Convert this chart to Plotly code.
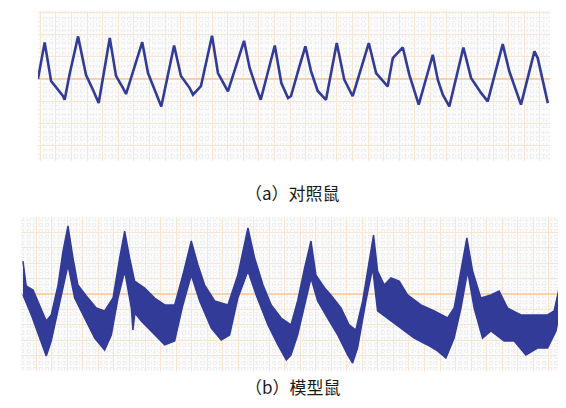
import plotly.graph_objects as go

# ---- (a) control rat: waveform vertices (x in grid divisions, y in grid divisions)
ctrl_t = [-0.15, 0.28, 0.69, 1.13, 1.45, 1.56, 1.88, 2.42, 2.93, 3.38, 3.74, 4.45, 4.85, 5.30, 5.49,
          6.53, 6.90, 7.33, 7.75, 8.57, 9.01, 9.57, 9.78, 10.29, 11.00, 11.38, 11.81, 12.02, 13.05,
          13.41, 13.84, 14.12, 15.02, 15.44, 15.87, 16.06, 16.57, 16.98, 17.34, 17.77, 18.30, 18.99,
          19.47, 19.80, 20.01, 21.04, 21.51, 22.25, 22.58, 23.22, 23.64, 24.24, 25.14, 25.46, 25.78,
          26.20, 27.10, 27.59, 28.23, 28.66, 29.62, 30.04, 30.47, 30.79, 31.65, 31.86, 32.51]
ctrl_v = [0.00, 1.66, -0.09, -0.50, -0.77, -0.94, 0.23, 1.93, 0.18, -0.50, -1.09, 1.86, 0.14, -0.41, -0.68,
          1.67, 0.27, -0.50, -1.24, 1.52, 0.14, -0.41, -0.71, -0.32, 1.96, 0.27, -0.26, -0.56, 1.73,
          0.50, -0.41, -0.94, 1.52, -0.18, -0.86, -0.77, 0.50, 1.48, 0.36, -0.54, -0.94, 1.63,
          -0.03, -0.48, -0.78, 1.63, 0.27, -0.33, 0.95, 1.43, 0.19, -1.16, 1.10, -0.03, -0.71,
          -1.24, 1.43, 0.05, -0.63, -1.01, 1.58, 0.35, -0.56, -1.16, 1.25, 0.95, -1.09]

# ---- (b) model rat: upper and lower envelope of the noisy band
model_up_t = [0.14, 0.35, 0.79, 1.22, 1.64, 1.96, 2.40, 2.72, 3.04, 3.36, 3.68, 4.22, 4.86, 5.40, 5.94,
              6.37, 6.69, 7.01, 7.33, 7.98, 8.62, 9.27, 9.91, 10.44, 10.98, 11.41, 11.84, 12.49, 13.34,
              13.98, 14.63, 15.06, 15.60, 16.13, 16.77, 17.40, 17.83, 18.28, 18.69, 19.01, 19.57, 19.97,
              20.62, 21.15, 21.58, 22.02, 22.44, 22.72, 22.98, 23.41, 23.84, 24.37, 24.91, 25.77, 26.63,
              27.49, 27.91, 28.35, 28.73, 29.10, 29.63, 30.28, 30.81, 31.35, 32.21, 33.07, 33.93, 34.35,
              34.68, 35.04]
model_up_v = [2.14, 0.52, 0.26, -0.71, -1.75, -1.36, 0.58, 2.79, 4.42, 2.34, 0.58, -0.13, -0.91, -1.10, -0.26,
              2.34, 4.09, 2.34, 0.84, 0.39, -0.26, -0.71, -0.71, 1.23, 3.44, 1.88, 0.58, -0.45, -0.71,
              1.23, 4.29, 2.34, 0.58, -0.71, -1.56, -2.01, -0.45, 1.69, 3.44, 1.23, 0.39, -0.06,
              -0.91, -2.01, -2.34, -0.45, 2.14, 3.83, 1.49, 0.58, 1.04, 0.84, -0.06, -0.71, -1.10,
              -1.56, -0.91, 1.49, 3.64, 1.49, -0.26, -0.06, 0.19, -0.91, -1.36, -1.36, -1.36, -1.10,
              0.39, 2.86]
model_lo_t = [0.14, 0.68, 1.22, 1.64, 1.96, 2.40, 2.72, 3.04, 3.47, 4.11, 4.76, 5.40, 5.83, 6.26, 6.69,
              7.12, 7.22, 7.35, 7.76, 8.62, 9.27, 9.91, 10.44, 10.98, 11.52, 12.27, 12.91, 13.45, 13.98,
              14.63, 15.16, 15.92, 16.56, 17.10, 17.40, 17.83, 18.36, 18.69, 19.12, 19.76, 20.41, 21.05,
              21.37, 21.69, 22.23, 22.66, 22.98, 23.63, 24.48, 25.34, 26.20, 26.84, 27.38, 27.91, 28.35,
              28.78, 29.20, 29.74, 30.28, 31.13, 31.78, 32.53, 33.28, 33.93, 34.47, 34.79, 35.04]
model_lo_v = [-0.06, -1.36, -2.86, -4.03, -3.05, -0.91, 0.39, 1.88, -0.26, -1.56, -2.86, -3.64, -2.66, -0.26, 1.49,
              -0.91, -2.34, -1.23, -1.75, -2.66, -3.31, -3.05, -0.71, 1.23, -0.45, -2.21, -2.99, -2.66, -0.26,
              1.49, -0.06, -2.01, -3.31, -4.29, -3.96, -2.66, -0.45, 1.04, -0.45, -1.56, -2.66, -3.96,
              -4.48, -3.51, -0.45, 1.69, -1.10, -1.56, -2.21, -2.86, -3.31, -3.70, -4.16, -2.86, -0.91,
              1.49, -0.91, -2.86, -2.40, -3.05, -3.05, -3.96, -3.51, -3.51, -2.40, -0.71, 0.19]

captions = ["（a）对照鼠", "（b）模型鼠"]

WAVE = "#323b97"
MAJOR = "#f8e6d3"
ZERO = "#f5d3b0"
MINOR = "#efefef"

fig = go.Figure()
fig.add_trace(go.Scatter(x=ctrl_t, y=ctrl_v, mode="lines", line=dict(color=WAVE, width=2.6),
                         xaxis="x", yaxis="y", hoverinfo="skip"))
poly_t = model_up_t + model_lo_t[::-1]
poly_v = model_up_v + model_lo_v[::-1]
fig.add_trace(go.Scatter(x=poly_t, y=poly_v, mode="lines", fill="toself", fillcolor=WAVE,
                         line=dict(color=WAVE, width=1.5), xaxis="x2", yaxis="y2", hoverinfo="skip"))


def ax(rng, dom):
    return dict(range=rng, domain=dom, showticklabels=False, ticks="", showline=False,
                showgrid=True, gridcolor=MAJOR, gridwidth=1.2, dtick=1, tick0=0,
                zeroline=False, fixedrange=True,
                minor=dict(dtick=0.2, showgrid=True, gridcolor=MINOR, griddash="dot", gridwidth=1))


fig.update_layout(
    width=566, height=408, margin=dict(l=0, r=0, t=0, b=0),
    paper_bgcolor="white", plot_bgcolor="#fbfbfb", showlegend=False,
    xaxis=dict(ax([-0.147, 32.63], [0.0530, 0.9571]), anchor="y"),
    yaxis=dict(ax([-3.70, 3.08], [0.6257, 0.9926]), anchor="x",
               zeroline=True, zerolinecolor=ZERO, zerolinewidth=2),
    xaxis2=dict(ax([0, 35], [0.0226, 0.9827]), anchor="y2"),
    yaxis2=dict(ax([-5, 5], [0.1103, 0.4877]), anchor="x2",
                zeroline=True, zerolinecolor=ZERO, zerolinewidth=2),
)

fig.add_annotation(text=captions[0], x=0.503, y=1 - 185 / 408, xref="paper", yref="paper",
                   showarrow=False, font=dict(family="Noto Sans CJK SC", size=17, color="#1a1a1a"))
fig.add_annotation(text=captions[1], x=0.503, y=1 - 393 / 408, xref="paper", yref="paper",
                   showarrow=False, font=dict(family="Noto Sans CJK SC", size=17, color="#1a1a1a"))

fig.write_html("out.html")
